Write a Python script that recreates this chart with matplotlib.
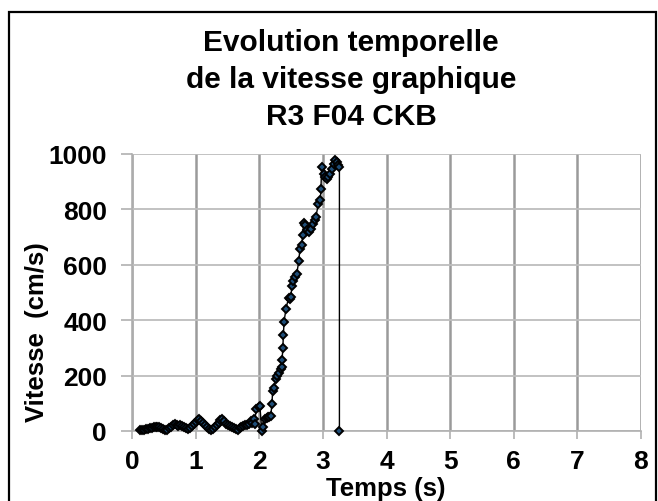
import matplotlib
matplotlib.use("Agg")
import matplotlib.pyplot as plt
from matplotlib.patches import Rectangle

plt.rcParams['font.family'] = ['Liberation Sans', 'DejaVu Sans']
plt.rcParams['font.weight'] = 'bold'

title = "Evolution temporelle\nde la vitesse graphique\nR3 F04 CKB"
x_label = "Temps (s)"
y_label = "Vitesse  (cm/s)"
x_ticks = [0, 1, 2, 3, 4, 5, 6, 7, 8]
y_ticks = [0, 200, 400, 600, 800, 1000]

temps = [0.13, 0.16, 0.19, 0.22, 0.25, 0.28, 0.31, 0.34, 0.37, 0.40,
         0.43, 0.46, 0.49, 0.52, 0.55, 0.58, 0.61, 0.64, 0.67, 0.70,
         0.73, 0.76, 0.79, 0.82, 0.85, 0.88, 0.91, 0.94, 0.97, 1.00,
         1.03, 1.06, 1.09, 1.12, 1.15, 1.18, 1.21, 1.24, 1.27, 1.30,
         1.33, 1.36, 1.39, 1.42, 1.45, 1.48, 1.51, 1.54, 1.57, 1.60,
         1.63, 1.66, 1.69, 1.72, 1.75, 1.78, 1.81, 1.84, 1.87, 1.89,
         1.91, 1.93, 1.95, 1.99, 2.01, 2.04, 2.06, 2.09, 2.12, 2.14,
         2.16, 2.18, 2.20, 2.21, 2.23, 2.26, 2.28, 2.31, 2.34, 2.35,
         2.36, 2.37, 2.38, 2.39, 2.42, 2.46, 2.48, 2.50, 2.51, 2.53,
         2.56, 2.59, 2.62, 2.64, 2.67, 2.68, 2.70, 2.72, 2.75, 2.78,
         2.81, 2.84, 2.87, 2.89, 2.93, 2.96, 2.97, 2.98, 3.01, 3.03,
         3.06, 3.08, 3.11, 3.14, 3.17, 3.19, 3.22, 3.24, 3.26, 3.26]
vitesse = [3, 5, 2, 6, 8, 10, 12, 13, 14, 15,
           13, 11, 8, 5, 4, 10, 16, 20, 25, 22,
           18, 20, 18, 14, 10, 8, 12, 18, 25, 32,
           38, 42, 35, 28, 20, 14, 8, 4, 6, 15,
           22, 30, 40, 45, 35, 25, 20, 18, 15, 10,
           6, 4, 10, 15, 18, 20, 22, 25, 37, 30,
           45, 25, 80, 87, 91, 0, 13, 43, 48, 50,
           52, 54, 98, 146, 155, 188, 200, 210, 224, 231,
           257, 300, 348, 395, 441, 480, 477, 485, 525, 540,
           555, 568, 612, 658, 670, 706, 751, 742, 727, 718,
           730, 749, 760, 773, 821, 833, 875, 953, 929, 917,
           911, 917, 929, 947, 965, 977, 971, 959, 953, 0]

W, H = 658, 502
fig = plt.figure(figsize=(W / 100, H / 100), dpi=100)

# outer frame
fig.patches.append(Rectangle((9 / W, -0.05), (656 - 9) / W, 1.05 - 13 / H,
                             transform=fig.transFigure, fill=False,
                             edgecolor='black', linewidth=1.6))

ax = fig.add_axes([132 / W, 1 - 432 / H, (641 - 132) / W, (432 - 155) / H])
ax.set_xlim(0, 8)
ax.set_ylim(0, 1000)
ax.set_xticks(x_ticks)
ax.set_yticks(y_ticks)
ax.set_xticklabels([str(t) for t in x_ticks])
ax.set_yticklabels([str(t) for t in y_ticks])

for s in ['top', 'right']:
    ax.spines[s].set_visible(False)
for s in ['left', 'bottom']:
    ax.spines[s].set_color('#b0b0b0')
    ax.spines[s].set_linewidth(1.2)

ax.xaxis.grid(True, color='#9a9a9a', linewidth=1.8)
ax.yaxis.grid(True, color='#bdbdbd', linewidth=1.3)
ax.set_axisbelow(True)

ax.tick_params(axis='x', length=6, width=1.2, color='#b0b0b0', pad=7,
               labelsize=19)
ax.tick_params(axis='y', length=8, width=1.2, color='#b0b0b0', pad=10,
               labelsize=19)
for lbl in ax.get_xticklabels() + ax.get_yticklabels():
    lbl.set_fontweight('bold')

ax.plot(temps, vitesse, color='black', linewidth=1.0, marker='D',
        markersize=4.2, markerfacecolor='#1f4e79', markeredgecolor='black',
        markeredgewidth=1.4, clip_on=False, zorder=3)

fig.text(351 / W, 1 - 80 / H, title, ha='center', va='center',
         fontsize=21.5, fontweight='bold', linespacing=1.42)
fig.text(386 / W, 1 - 489 / H, x_label, ha='center', va='center',
         fontsize=18.5, fontweight='bold')
fig.text(37 / W, 1 - 332 / H, y_label, ha='center', va='center',
         rotation=90, fontsize=18.5, fontweight='bold')

fig.savefig('out.png', dpi=100)
